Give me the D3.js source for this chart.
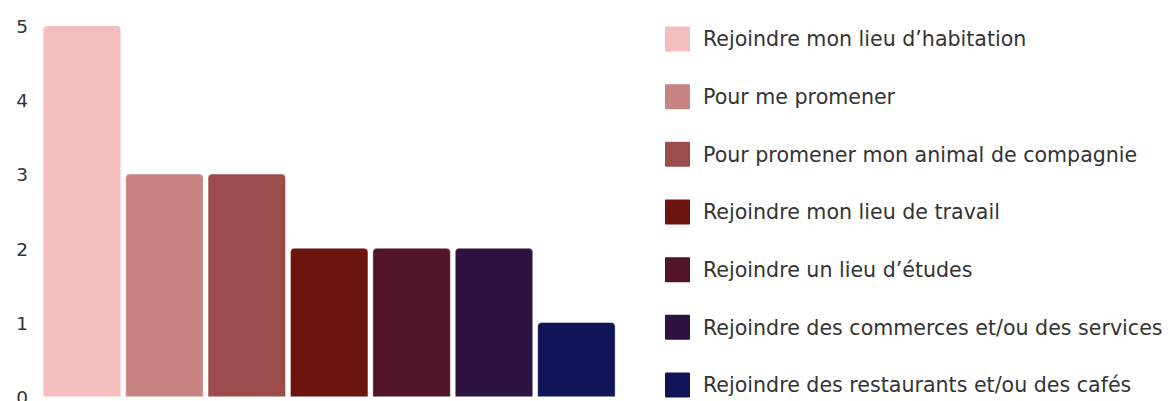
<!DOCTYPE html>
<html><head><meta charset="utf-8">
<script src="https://cdn.jsdelivr.net/npm/d3@7"></script>
<style>body{margin:0;background:#fff}svg{display:block}</style>
</head><body>
<svg id="chart" width="1169" height="401"></svg>
<script>
const categories = [
  "Rejoindre mon lieu d’habitation",
  "Pour me promener",
  "Pour promener mon animal de compagnie",
  "Rejoindre mon lieu de travail",
  "Rejoindre un lieu d’études",
  "Rejoindre des commerces et/ou des services",
  "Rejoindre des restaurants et/ou des cafés"
];
const values = [5, 3, 3, 2, 2, 2, 1];
const colors = ["#F4BEBF", "#C88482", "#9C4D4B", "#6C1410", "#521428", "#2E1240", "#121458"];
const yTicks = [0, 1, 2, 3, 4, 5];

const svg = d3.select("#chart");
const font = "'DejaVu Sans', 'Open Sans', sans-serif";
const x = d3.scaleBand().domain(categories).range([40.8, 617.6]).paddingInner(0.06).paddingOuter(0.03);
const y = d3.scaleLinear().domain([0, 5]).range([396.7, 25.7]);

const yAxis = svg.append("g").attr("transform", "translate(28,0)")
  .call(d3.axisLeft(y).tickValues(yTicks).tickSize(0).tickPadding(0).tickFormat(d3.format("d")));
yAxis.select(".domain").remove();
yAxis.selectAll("text").attr("font-family", font).attr("font-size", 18.5).attr("fill", "#333").attr("dy", "0.37em");

function topRounded(x0, y0, w, h, r) {
  r = Math.min(r, h, w / 2);
  return `M${x0},${y0 + h}V${y0 + r}Q${x0},${y0} ${x0 + r},${y0}H${x0 + w - r}Q${x0 + w},${y0} ${x0 + w},${y0 + r}V${y0 + h}Z`;
}

svg.append("g").selectAll("path").data(categories).join("path")
  .attr("d", (d, i) => topRounded(x(d), y(values[i]), x.bandwidth(), y(0) - y(values[i]), 4))
  .attr("fill", (d, i) => colors[i])
  .attr("stroke", "#ffffff").attr("stroke-opacity", 0.4).attr("stroke-width", 1);

const ly = d3.scalePoint().domain(categories).range([39, 385]);
const leg = svg.append("g").selectAll("g").data(categories).join("g")
  .attr("transform", d => `translate(665,${ly(d)})`);
leg.append("rect").attr("x", 0).attr("y", -12.5).attr("width", 25).attr("height", 25).attr("rx", 1)
  .attr("fill", (d, i) => colors[i]);
const texts = leg.append("text").attr("x", 38).attr("dy", "0.36em")
  .attr("font-family", font).attr("font-size", 18).attr("fill", "#333").text(d => d);
// fit font size so the longest label spans ~462px as in the reference
let maxW = 0;
texts.each(function () { maxW = Math.max(maxW, this.getComputedTextLength()); });
const fs = Math.min(21, 18 * 460 / maxW);
texts.attr("font-size", fs);
</script>
</body></html>
